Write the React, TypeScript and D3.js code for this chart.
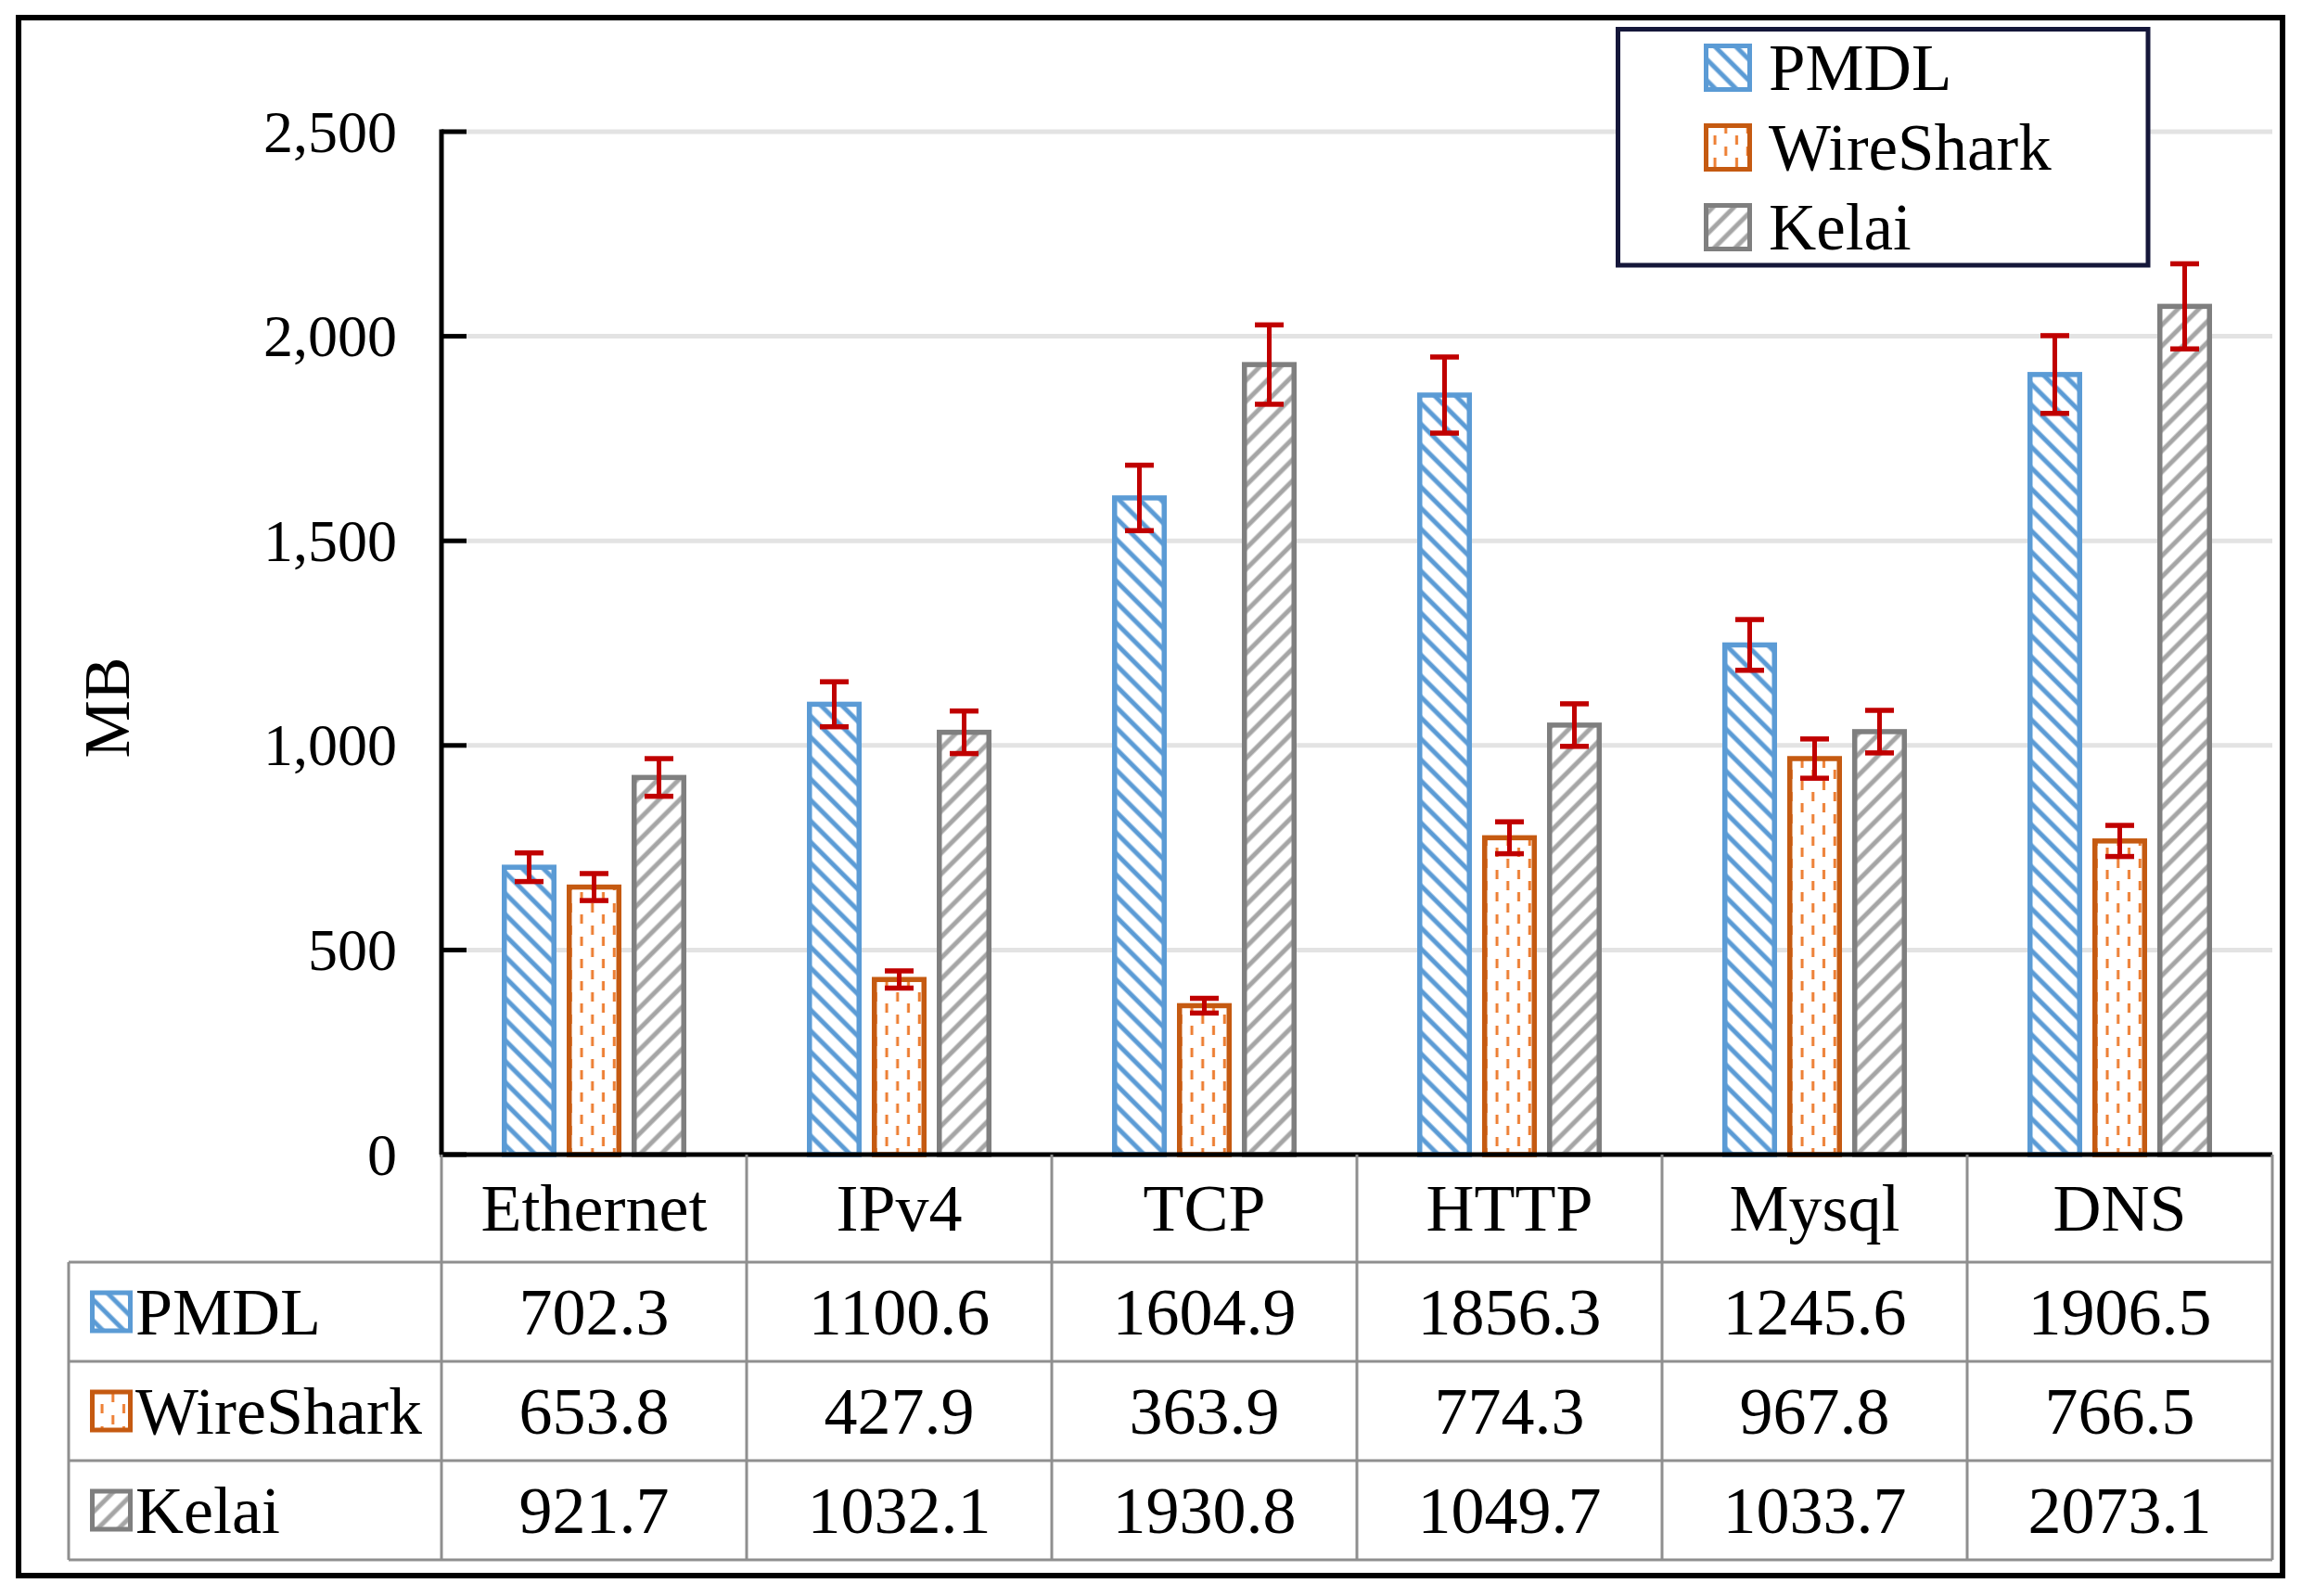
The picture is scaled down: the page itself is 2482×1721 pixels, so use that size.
import React, { useEffect, useRef } from 'react';
import * as d3 from 'd3';

const categories = ['Ethernet', 'IPv4', 'TCP', 'HTTP', 'Mysql', 'DNS'];
const seriesNames = ['PMDL', 'WireShark', 'Kelai'];
const pmdlValues = [702.3, 1100.6, 1604.9, 1856.3, 1245.6, 1906.5];
const wiresharkValues = [653.8, 427.9, 363.9, 774.3, 967.8, 766.5];
const kelaiValues = [921.7, 1032.1, 1930.8, 1049.7, 1033.7, 2073.1];
const pmdlErrors = [35, 55, 80, 93, 62, 95];
const wiresharkErrors = [33, 21, 18, 39, 48, 38];
const kelaiErrors = [46, 52, 97, 52, 52, 104];
const yTicks = [0, 500, 1000, 1500, 2000, 2500];

const FONT = "'Liberation Serif', 'Times New Roman', serif";

const App: React.FC = () => {
  const svgRef = useRef<SVGSVGElement>(null);

  useEffect(() => {
    if (!svgRef.current) return;
    const svg = d3.select(svgRef.current);
    svg.selectAll('*').remove();

    const W = 2482;
    const H = 1721;
    svg.attr('width', W).attr('height', H);

    const series = [
      { name: seriesNames[0], values: pmdlValues, errors: pmdlErrors, stroke: '#5b9bd5', fill: 'url(#pat-pmdl)' },
      { name: seriesNames[1], values: wiresharkValues, errors: wiresharkErrors, stroke: '#c55a11', fill: 'url(#pat-wire)' },
      { name: seriesNames[2], values: kelaiValues, errors: kelaiErrors, stroke: '#7f7f7f', fill: 'url(#pat-kelai)' },
    ];

    const plotLeft = 476;
    const plotRight = 2450;

    // 塗りパターン
    const defs = svg.append('defs');
    const stripe = (id: string, color: string, angle: number) => {
      const p = defs
        .append('pattern')
        .attr('id', id)
        .attr('patternUnits', 'userSpaceOnUse')
        .attr('width', 16)
        .attr('height', 16)
        .attr('patternTransform', `rotate(${angle})`);
      p.append('rect').attr('width', 16).attr('height', 16).attr('fill', '#fff');
      p.append('line')
        .attr('x1', 8).attr('y1', -2).attr('x2', 8).attr('y2', 18)
        .attr('stroke', color).attr('stroke-width', 5);
    };
    stripe('pat-pmdl', '#5b9bd5', -45);
    stripe('pat-kelai', '#a5a5a5', 45);

    const pw = (plotRight - plotLeft) / 6 / 14;
    const wp = defs
      .append('pattern')
      .attr('id', 'pat-wire')
      .attr('patternUnits', 'userSpaceOnUse')
      .attr('width', pw)
      .attr('height', 24);
    wp.append('rect').attr('width', pw).attr('height', 24).attr('fill', '#fff');
    wp.append('rect').attr('x', 14.5).attr('y', 2).attr('width', 3).attr('height', 10).attr('fill', '#ed7d31');
    wp.append('rect').attr('x', 2.75).attr('y', 14).attr('width', 3).attr('height', 10).attr('fill', '#ed7d31');

    svg.append('rect').attr('width', W).attr('height', H).attr('fill', '#fff');

    // スケール
    const x0 = d3.scaleBand().domain(categories).range([plotLeft, plotRight]).padding(0);
    const groupW = 199;
    const x1 = d3.scaleBand().domain(seriesNames).range([0, groupW]).paddingInner(0.157);
    const groupOffset = (x0.bandwidth() - groupW) / 2;
    const y = d3.scaleLinear().domain([0, 2500]).range([1245, 142]);

    // グリッド線
    svg
      .append('g')
      .selectAll('line')
      .data(yTicks.filter((t) => t > 0))
      .enter()
      .append('line')
      .attr('x1', plotLeft)
      .attr('x2', plotRight)
      .attr('y1', (d) => y(d))
      .attr('y2', (d) => y(d))
      .attr('stroke', '#e3e3e3')
      .attr('stroke-width', 5);

    // 棒
    const sw = 5.5;
    series.forEach((s) => {
      svg
        .append('g')
        .selectAll('rect')
        .data(s.values)
        .enter()
        .append('rect')
        .attr('x', (d, i) => (x0(categories[i]) || 0) + groupOffset + (x1(s.name) || 0) + sw / 2)
        .attr('y', (d) => y(d))
        .attr('width', x1.bandwidth() - sw)
        .attr('height', (d) => y(0) - y(d))
        .attr('fill', s.fill)
        .attr('stroke', s.stroke)
        .attr('stroke-width', sw);
    });

    // Y軸
    const yAxis = svg.append('g');
    yAxis
      .append('line')
      .attr('x1', plotLeft).attr('x2', plotLeft)
      .attr('y1', y(2500) - 2.5).attr('y2', y(0))
      .attr('stroke', '#000').attr('stroke-width', 5);
    yAxis
      .selectAll('.tick')
      .data(yTicks)
      .enter()
      .append('line')
      .attr('x1', plotLeft)
      .attr('x2', plotLeft + 27)
      .attr('y1', (d) => y(d))
      .attr('y2', (d) => y(d))
      .attr('stroke', '#000')
      .attr('stroke-width', 5);
    yAxis
      .selectAll('text')
      .data(yTicks)
      .enter()
      .append('text')
      .attr('x', 428)
      .attr('y', (d) => y(d))
      .attr('text-anchor', 'end')
      .attr('dominant-baseline', 'central')
      .style('font-family', FONT)
      .style('font-size', '64px')
      .text((d) => d3.format(',')(d));

    // X軸
    svg
      .append('line')
      .attr('x1', plotLeft - 2).attr('x2', plotRight)
      .attr('y1', y(0)).attr('y2', y(0))
      .attr('stroke', '#000').attr('stroke-width', 5);

    // 誤差棒
    series.forEach((s) => {
      const g = svg.append('g');
      s.values.forEach((v, i) => {
        const cx = (x0(categories[i]) || 0) + groupOffset + (x1(s.name) || 0) + x1.bandwidth() / 2;
        const yt = y(v + s.errors[i]);
        const yb = y(v - s.errors[i]);
        g.append('line').attr('x1', cx).attr('x2', cx).attr('y1', yt).attr('y2', yb)
          .attr('stroke', '#c00000').attr('stroke-width', 5);
        [yt, yb].forEach((yy) => {
          g.append('line').attr('x1', cx - 15.5).attr('x2', cx + 15.5).attr('y1', yy).attr('y2', yy)
            .attr('stroke', '#c00000').attr('stroke-width', 5.5);
        });
      });
    });

    // Y軸ラベル
    svg
      .append('text')
      .attr('transform', 'translate(115,763) rotate(-90)')
      .attr('text-anchor', 'middle')
      .attr('dominant-baseline', 'central')
      .style('font-family', FONT)
      .style('font-size', '70px')
      .text('MB');

    // データテーブル
    const table = svg.append('g');
    const tableTop = y(0);
    const headerBottom = 1361;
    const rowH = 107;
    const tableLeft = 74;
    const tableBottom = headerBottom + rowH * 3;
    const gridColor = '#8f8f8f';
    const colEdges = categories.map((c) => x0(c) || 0).concat([plotRight]);
    colEdges.forEach((cx) => {
      table.append('line').attr('x1', cx).attr('x2', cx).attr('y1', tableTop).attr('y2', tableBottom)
        .attr('stroke', gridColor).attr('stroke-width', 3);
    });
    table.append('line').attr('x1', tableLeft).attr('x2', tableLeft).attr('y1', headerBottom).attr('y2', tableBottom)
      .attr('stroke', gridColor).attr('stroke-width', 3);
    [0, 1, 2, 3].forEach((r) => {
      const yy = headerBottom + r * rowH;
      table.append('line').attr('x1', tableLeft).attr('x2', plotRight).attr('y1', yy).attr('y2', yy)
        .attr('stroke', gridColor).attr('stroke-width', 3);
    });

    table
      .selectAll('.hdr')
      .data(categories)
      .enter()
      .append('text')
      .attr('x', (d) => (x0(d) || 0) + x0.bandwidth() / 2)
      .attr('y', (tableTop + headerBottom) / 2)
      .attr('text-anchor', 'middle')
      .attr('dominant-baseline', 'central')
      .style('font-family', FONT)
      .style('font-size', '72px')
      .text((d) => d);

    series.forEach((s, r) => {
      const cy = headerBottom + rowH * r + rowH / 2;
      table.append('rect')
        .attr('x', 97 + 2.5).attr('y', cy - 23 + 2.5).attr('width', 41).attr('height', 41)
        .attr('fill', s.fill).attr('stroke', s.stroke).attr('stroke-width', 5);
      table.append('text')
        .attr('x', 146).attr('y', cy)
        .attr('dominant-baseline', 'central')
        .style('font-family', FONT).style('font-size', '72px')
        .text(s.name);
      table
        .selectAll(`.v${r}`)
        .data(s.values)
        .enter()
        .append('text')
        .attr('x', (d, i) => (x0(categories[i]) || 0) + x0.bandwidth() / 2)
        .attr('y', cy)
        .attr('text-anchor', 'middle')
        .attr('dominant-baseline', 'central')
        .style('font-family', FONT)
        .style('font-size', '72px')
        .text((d) => d3.format('.1f')(d));
    });

    // 凡例
    const legend = svg.append('g');
    legend.append('rect')
      .attr('x', 1744.5).attr('y', 31.5).attr('width', 571.5).attr('height', 254.5)
      .attr('fill', '#fff').attr('stroke', '#15173a').attr('stroke-width', 5);
    series.forEach((s, i) => {
      const cy = 73 + i * 86;
      legend.append('rect')
        .attr('x', 1837 + 2.5).attr('y', cy - 26 + 2.5).attr('width', 47).attr('height', 47)
        .attr('fill', s.fill).attr('stroke', s.stroke).attr('stroke-width', 5);
      legend.append('text')
        .attr('x', 1907).attr('y', cy)
        .attr('dominant-baseline', 'central')
        .style('font-family', FONT).style('font-size', '71px')
        .text(s.name);
    });

    // 外枠
    svg.append('rect')
      .attr('x', 20).attr('y', 19).attr('width', 2441).attr('height', 1680)
      .attr('fill', 'none').attr('stroke', '#000').attr('stroke-width', 6);
  }, []);

  return <svg ref={svgRef} style={{ position: 'absolute', left: 0, top: 0 }}></svg>;
};

export default App;
